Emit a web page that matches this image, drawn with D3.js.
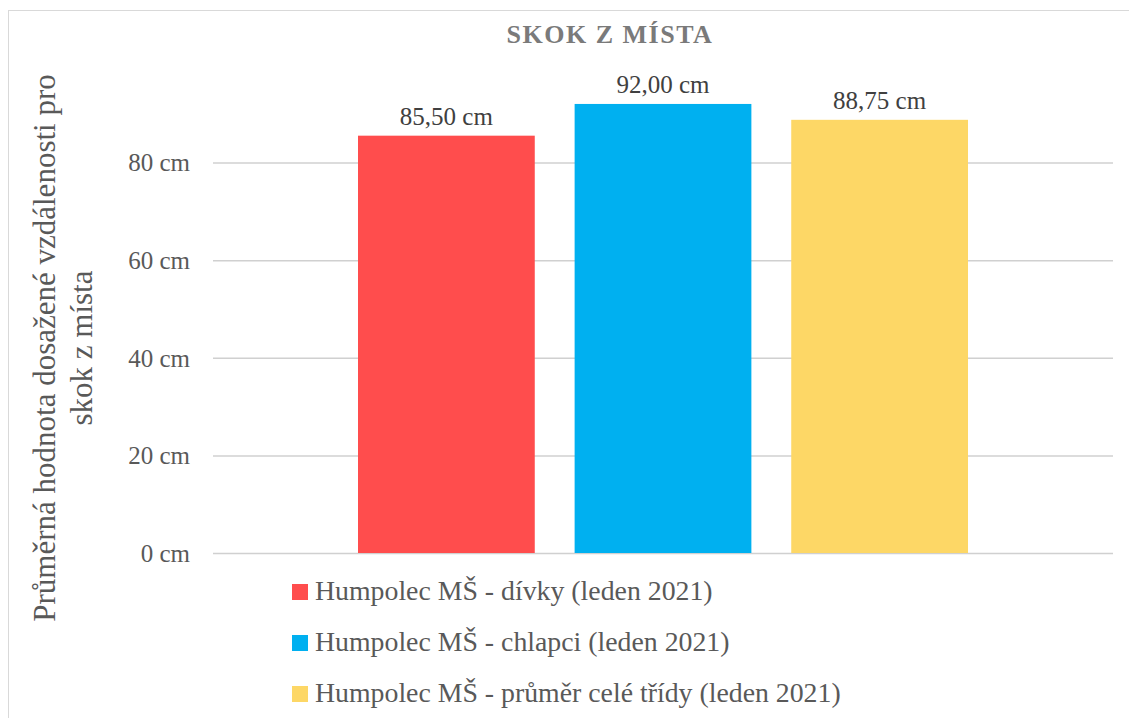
<!DOCTYPE html>
<html>
<head>
<meta charset="utf-8">
<script src="https://cdn.jsdelivr.net/npm/d3@7"></script>
<style>
  html, body { margin: 0; padding: 0; background: #ffffff; }
  svg { display: block; }
</style>
</head>
<body>
<svg id="chart" width="1129" height="718"></svg>
<script>
// ---- data ----
const chartTitle = "SKOK Z MÍSTA";
const yAxisTitle = ["Průměrná hodnota dosažené vzdálenosti pro", "skok z místa"];
const seriesNames = [
  "Humpolec MŠ - dívky (leden 2021)",
  "Humpolec MŠ - chlapci (leden 2021)",
  "Humpolec MŠ - průměr celé třídy (leden 2021)"
];
const seriesValues = [85.5, 92.0, 88.75];
const seriesColors = ["#FF4D4D", "#00B0F0", "#FDD766"];
const yTicks = [0, 20, 40, 60, 80];
const yMax = 100;

// ---- setup ----
const svg = d3.select("#chart");
const W = 1129, H = 718;
const plotL = 213, plotR = 1113, plotBottom = 553, plotTop = 64.9;
const serif = "'Liberation Serif', 'Times New Roman', serif";

const cz = d3.formatLocale({ decimal: ",", thousands: " ", grouping: [3], currency: ["", " Kč"] });
const fmt2 = cz.format(".2f");

// outer border
svg.append("rect")
  .attr("x", 8.5).attr("y", 10.5)
  .attr("width", W + 20).attr("height", H + 20)
  .attr("fill", "#ffffff").attr("stroke", "#d9d9d9").attr("stroke-width", 1);

const y = d3.scaleLinear().domain([0, yMax]).range([plotBottom, plotTop]);

const x = d3.scaleBand()
  .domain(seriesNames)
  .range([plotL + 145, plotR - 145])
  .paddingInner(0.184)
  .paddingOuter(0);

// gridlines via axis
const yAxis = d3.axisLeft(y)
  .tickValues(yTicks)
  .tickSize(-(plotR - plotL))
  .tickFormat(d => d + " cm");

const gAxis = svg.append("g")
  .attr("transform", `translate(${plotL},0)`)
  .call(yAxis);
gAxis.select(".domain").remove();
gAxis.selectAll(".tick line")
  .attr("stroke", "#d0d0d0").attr("stroke-width", 1.5);
gAxis.selectAll(".tick text")
  .attr("x", -23)
  .attr("dy", "0.33em")
  .attr("fill", "#595959")
  .style("font-family", serif)
  .style("font-size", "25px");

// bars
svg.append("g").selectAll("rect")
  .data(seriesValues)
  .join("rect")
  .attr("x", (d, i) => x(seriesNames[i]))
  .attr("y", d => y(d))
  .attr("width", x.bandwidth())
  .attr("height", d => y(0) - y(d))
  .attr("fill", (d, i) => seriesColors[i]);

// data labels
svg.append("g").selectAll("text")
  .data(seriesValues)
  .join("text")
  .attr("x", (d, i) => x(seriesNames[i]) + x.bandwidth() / 2)
  .attr("y", d => y(d) - 11)
  .attr("text-anchor", "middle")
  .attr("fill", "#404040")
  .style("font-family", serif)
  .style("font-size", "25px")
  .text(d => fmt2(d) + " cm");

// title
svg.append("text")
  .attr("x", 610)
  .attr("y", 43)
  .attr("text-anchor", "middle")
  .attr("fill", "#7a7a7a")
  .style("font-family", serif)
  .style("font-size", "26px")
  .style("font-weight", "bold")
  .style("letter-spacing", "1.5px")
  .text(chartTitle);

// y-axis title
const yt = svg.append("text")
  .attr("transform", "translate(0,348) rotate(-90)")
  .attr("text-anchor", "middle")
  .attr("fill", "#595959")
  .style("font-family", serif)
  .style("font-size", "31px");
yt.selectAll("tspan")
  .data(yAxisTitle)
  .join("tspan")
  .attr("x", 0)
  .attr("y", (d, i) => 55 + i * 37)
  .text(d => d);

// legend
const leg = svg.append("g").selectAll("g")
  .data(seriesNames)
  .join("g")
  .attr("transform", (d, i) => `translate(292,${600 + i * 51})`);
leg.append("rect")
  .attr("x", 0).attr("y", -16)
  .attr("width", 16).attr("height", 16)
  .attr("fill", (d, i) => seriesColors[i]);
leg.append("text")
  .attr("x", 23).attr("y", 0)
  .attr("fill", "#595959")
  .style("font-family", serif)
  .style("font-size", "27.8px")
  .text(d => d);
</script>
</body>
</html>
